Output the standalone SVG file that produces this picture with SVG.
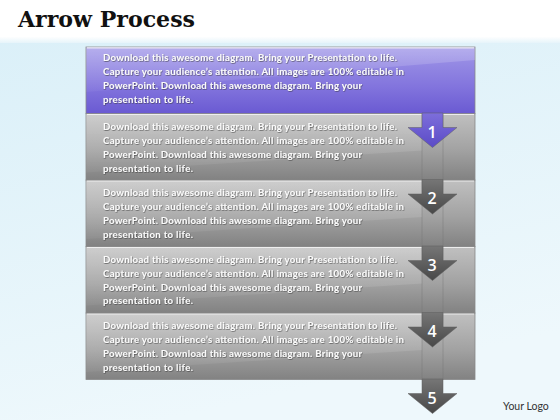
<svg xmlns="http://www.w3.org/2000/svg" width="560" height="420" viewBox="0 0 560 420">
<defs>
<linearGradient id="bg" x1="0" y1="0" x2="0.3" y2="1">
<stop offset="0" stop-color="#d9eff8"/>
<stop offset="1" stop-color="#eef8fc"/>
</linearGradient>
<linearGradient id="topbar" x1="0" y1="0" x2="0" y2="1">
<stop offset="0" stop-color="#ffffff"/>
<stop offset="0.85" stop-color="#ffffff"/>
<stop offset="1" stop-color="#e6f4fa"/>
</linearGradient>
<linearGradient id="gPurple" x1="0" y1="0" x2="0" y2="1">
<stop offset="0" stop-color="#a198e8"/>
<stop offset="0.6" stop-color="#8274dd"/>
<stop offset="1" stop-color="#6a5ad2"/>
</linearGradient>
<linearGradient id="gGray" x1="0" y1="0" x2="0" y2="1">
<stop offset="0" stop-color="#c0c0c0"/>
<stop offset="0.55" stop-color="#a2a2a2"/>
<stop offset="1" stop-color="#828282"/>
</linearGradient>
<linearGradient id="aPurple" x1="0" y1="0" x2="0" y2="1">
<stop offset="0" stop-color="#7d6edb"/>
<stop offset="1" stop-color="#5b4bc6"/>
</linearGradient>
<linearGradient id="aGray" x1="0" y1="0" x2="0" y2="1">
<stop offset="0" stop-color="#767676"/>
<stop offset="1" stop-color="#484848"/>
</linearGradient>
<linearGradient id="shine" x1="0" y1="0" x2="0" y2="1">
<stop offset="0" stop-color="#ffffff" stop-opacity="0.22"/>
<stop offset="1" stop-color="#ffffff" stop-opacity="0.04"/>
</linearGradient>
<filter id="sh" x="-5%" y="-30%" width="110%" height="160%">
<feDropShadow dx="0.6" dy="0.7" stdDeviation="0.4" flood-color="#333" flood-opacity="0.7"/>
</filter>
</defs>
<style>
.band{stroke:#888;stroke-width:0.8}
.hl{stroke:#f4f4f4;stroke-width:1.2;stroke-opacity:0.85}
.edge{stroke:#737373;stroke-width:0.6;stroke-opacity:0.7}
.txt{font-family:Lato,"Open Sans",sans-serif;font-weight:bold;font-size:9.6px;fill:#fbfbfb;filter:url(#sh)}
.num{font-family:"Open Sans",Lato,sans-serif;font-weight:600;font-size:16px;fill:#ffffff;text-anchor:middle}
.arrow{stroke:#5f5f5f;stroke-width:0.5}
</style>
<rect x="0" y="0" width="560" height="420" fill="url(#bg)"/>
<rect x="0" y="0" width="560" height="43" fill="url(#topbar)"/>
<text x="18" y="27" font-family="'DejaVu Serif','Liberation Serif',serif" font-weight="bold" font-size="22" fill="#111" textLength="177" lengthAdjust="spacingAndGlyphs">Arrow Process</text>

<g id="band5">
<rect class="band" x="86" y="313" width="389" height="66.5" fill="url(#gGray)"/>
<path d="M86,313 H422 V350 L86,372 Z" fill="url(#shine)"/>
<path class="hl" d="M87,313.8 H422 M443,313.8 H474"/>
<path class="edge" d="M422,313 V379.5 M443,313 V379.5"/>
<text class="txt" x="103" y="329" textLength="294">Download this awesome diagram. Bring your Presentation to life.</text>
<text class="txt" x="103" y="343" textLength="301">Capture your audience’s attention. All images are 100% editable in</text>
<text class="txt" x="103" y="357" textLength="259">PowerPoint. Download this awesome diagram. Bring your</text>
<text class="txt" x="103" y="370.5" textLength="90">presentation to life.</text>
</g>
<g id="band4">
<rect class="band" x="86" y="246.5" width="389" height="66.5" fill="url(#gGray)"/>
<path d="M86,246.5 H422 V283.5 L86,305.5 Z" fill="url(#shine)"/>
<path class="hl" d="M87,247.3 H422 M443,247.3 H474"/>
<path class="edge" d="M422,246.5 V313 M443,246.5 V313"/>
<text class="txt" x="103" y="262.5" textLength="294">Download this awesome diagram. Bring your Presentation to life.</text>
<text class="txt" x="103" y="276.5" textLength="301">Capture your audience’s attention. All images are 100% editable in</text>
<text class="txt" x="103" y="290.5" textLength="259">PowerPoint. Download this awesome diagram. Bring your</text>
<text class="txt" x="103" y="304" textLength="90">presentation to life.</text>
</g>
<g id="band3">
<rect class="band" x="86" y="180" width="389" height="66.5" fill="url(#gGray)"/>
<path d="M86,180 H422 V217 L86,239 Z" fill="url(#shine)"/>
<path class="hl" d="M87,180.8 H422 M443,180.8 H474"/>
<path class="edge" d="M422,180 V246.5 M443,180 V246.5"/>
<text class="txt" x="103" y="196" textLength="294">Download this awesome diagram. Bring your Presentation to life.</text>
<text class="txt" x="103" y="210" textLength="301">Capture your audience’s attention. All images are 100% editable in</text>
<text class="txt" x="103" y="224" textLength="259">PowerPoint. Download this awesome diagram. Bring your</text>
<text class="txt" x="103" y="237.5" textLength="90">presentation to life.</text>
</g>
<g id="band2">
<rect class="band" x="86" y="113.5" width="389" height="66.5" fill="url(#gGray)"/>
<path d="M86,113.5 H422 V150.5 L86,172.5 Z" fill="url(#shine)"/>
<path class="hl" d="M87,114.3 H422 M443,114.3 H474"/>
<path class="edge" d="M422,113.5 V180 M443,113.5 V180"/>
<text class="txt" x="103" y="130" textLength="294">Download this awesome diagram. Bring your Presentation to life.</text>
<text class="txt" x="103" y="144" textLength="301">Capture your audience’s attention. All images are 100% editable in</text>
<text class="txt" x="103" y="158" textLength="259">PowerPoint. Download this awesome diagram. Bring your</text>
<text class="txt" x="103" y="171.5" textLength="90">presentation to life.</text>
</g>
<g id="band1">
<rect class="band" x="86" y="47" width="389" height="66.5" fill="url(#gPurple)"/>
<path d="M86,47 H475 V60 L86,92 Z" fill="url(#shine)"/>
<path class="hl" d="M87,47.8 H474"/>
<text class="txt" x="103" y="61" textLength="294">Download this awesome diagram. Bring your Presentation to life.</text>
<text class="txt" x="103" y="75" textLength="301">Capture your audience’s attention. All images are 100% editable in</text>
<text class="txt" x="103" y="89" textLength="259">PowerPoint. Download this awesome diagram. Bring your</text>
<text class="txt" x="103" y="102.5" textLength="90">presentation to life.</text>
</g>

<g id="connectors">
<path class="arrow" d="M422,113 V127.5 H408 L432.5,147.5 L457,127.5 H443 V113 Z" fill="url(#aPurple)"/>
<path class="arrow" d="M422,179.5 V194 H408 L432.5,214 L457,194 H443 V179.5 Z" fill="url(#aGray)"/>
<path class="arrow" d="M422,246 V260.5 H408 L432.5,280.5 L457,260.5 H443 V246 Z" fill="url(#aGray)"/>
<path class="arrow" d="M422,312.5 V327 H408 L432.5,347 L457,327 H443 V312.5 Z" fill="url(#aGray)"/>
<path class="arrow" d="M422,379 V393.5 H408 L432.5,413.5 L457,393.5 H443 V379 Z" fill="url(#aGray)"/>
<text class="num" x="432" y="137.5">1</text>
<text class="num" x="432" y="204">2</text>
<text class="num" x="432" y="270.5">3</text>
<text class="num" x="432" y="337">4</text>
<text class="num" x="432" y="403.5">5</text>
</g>
<text x="503" y="410" font-family="Lato,'Open Sans',sans-serif" font-size="10.5" fill="#333">Your Logo</text>
</svg>
